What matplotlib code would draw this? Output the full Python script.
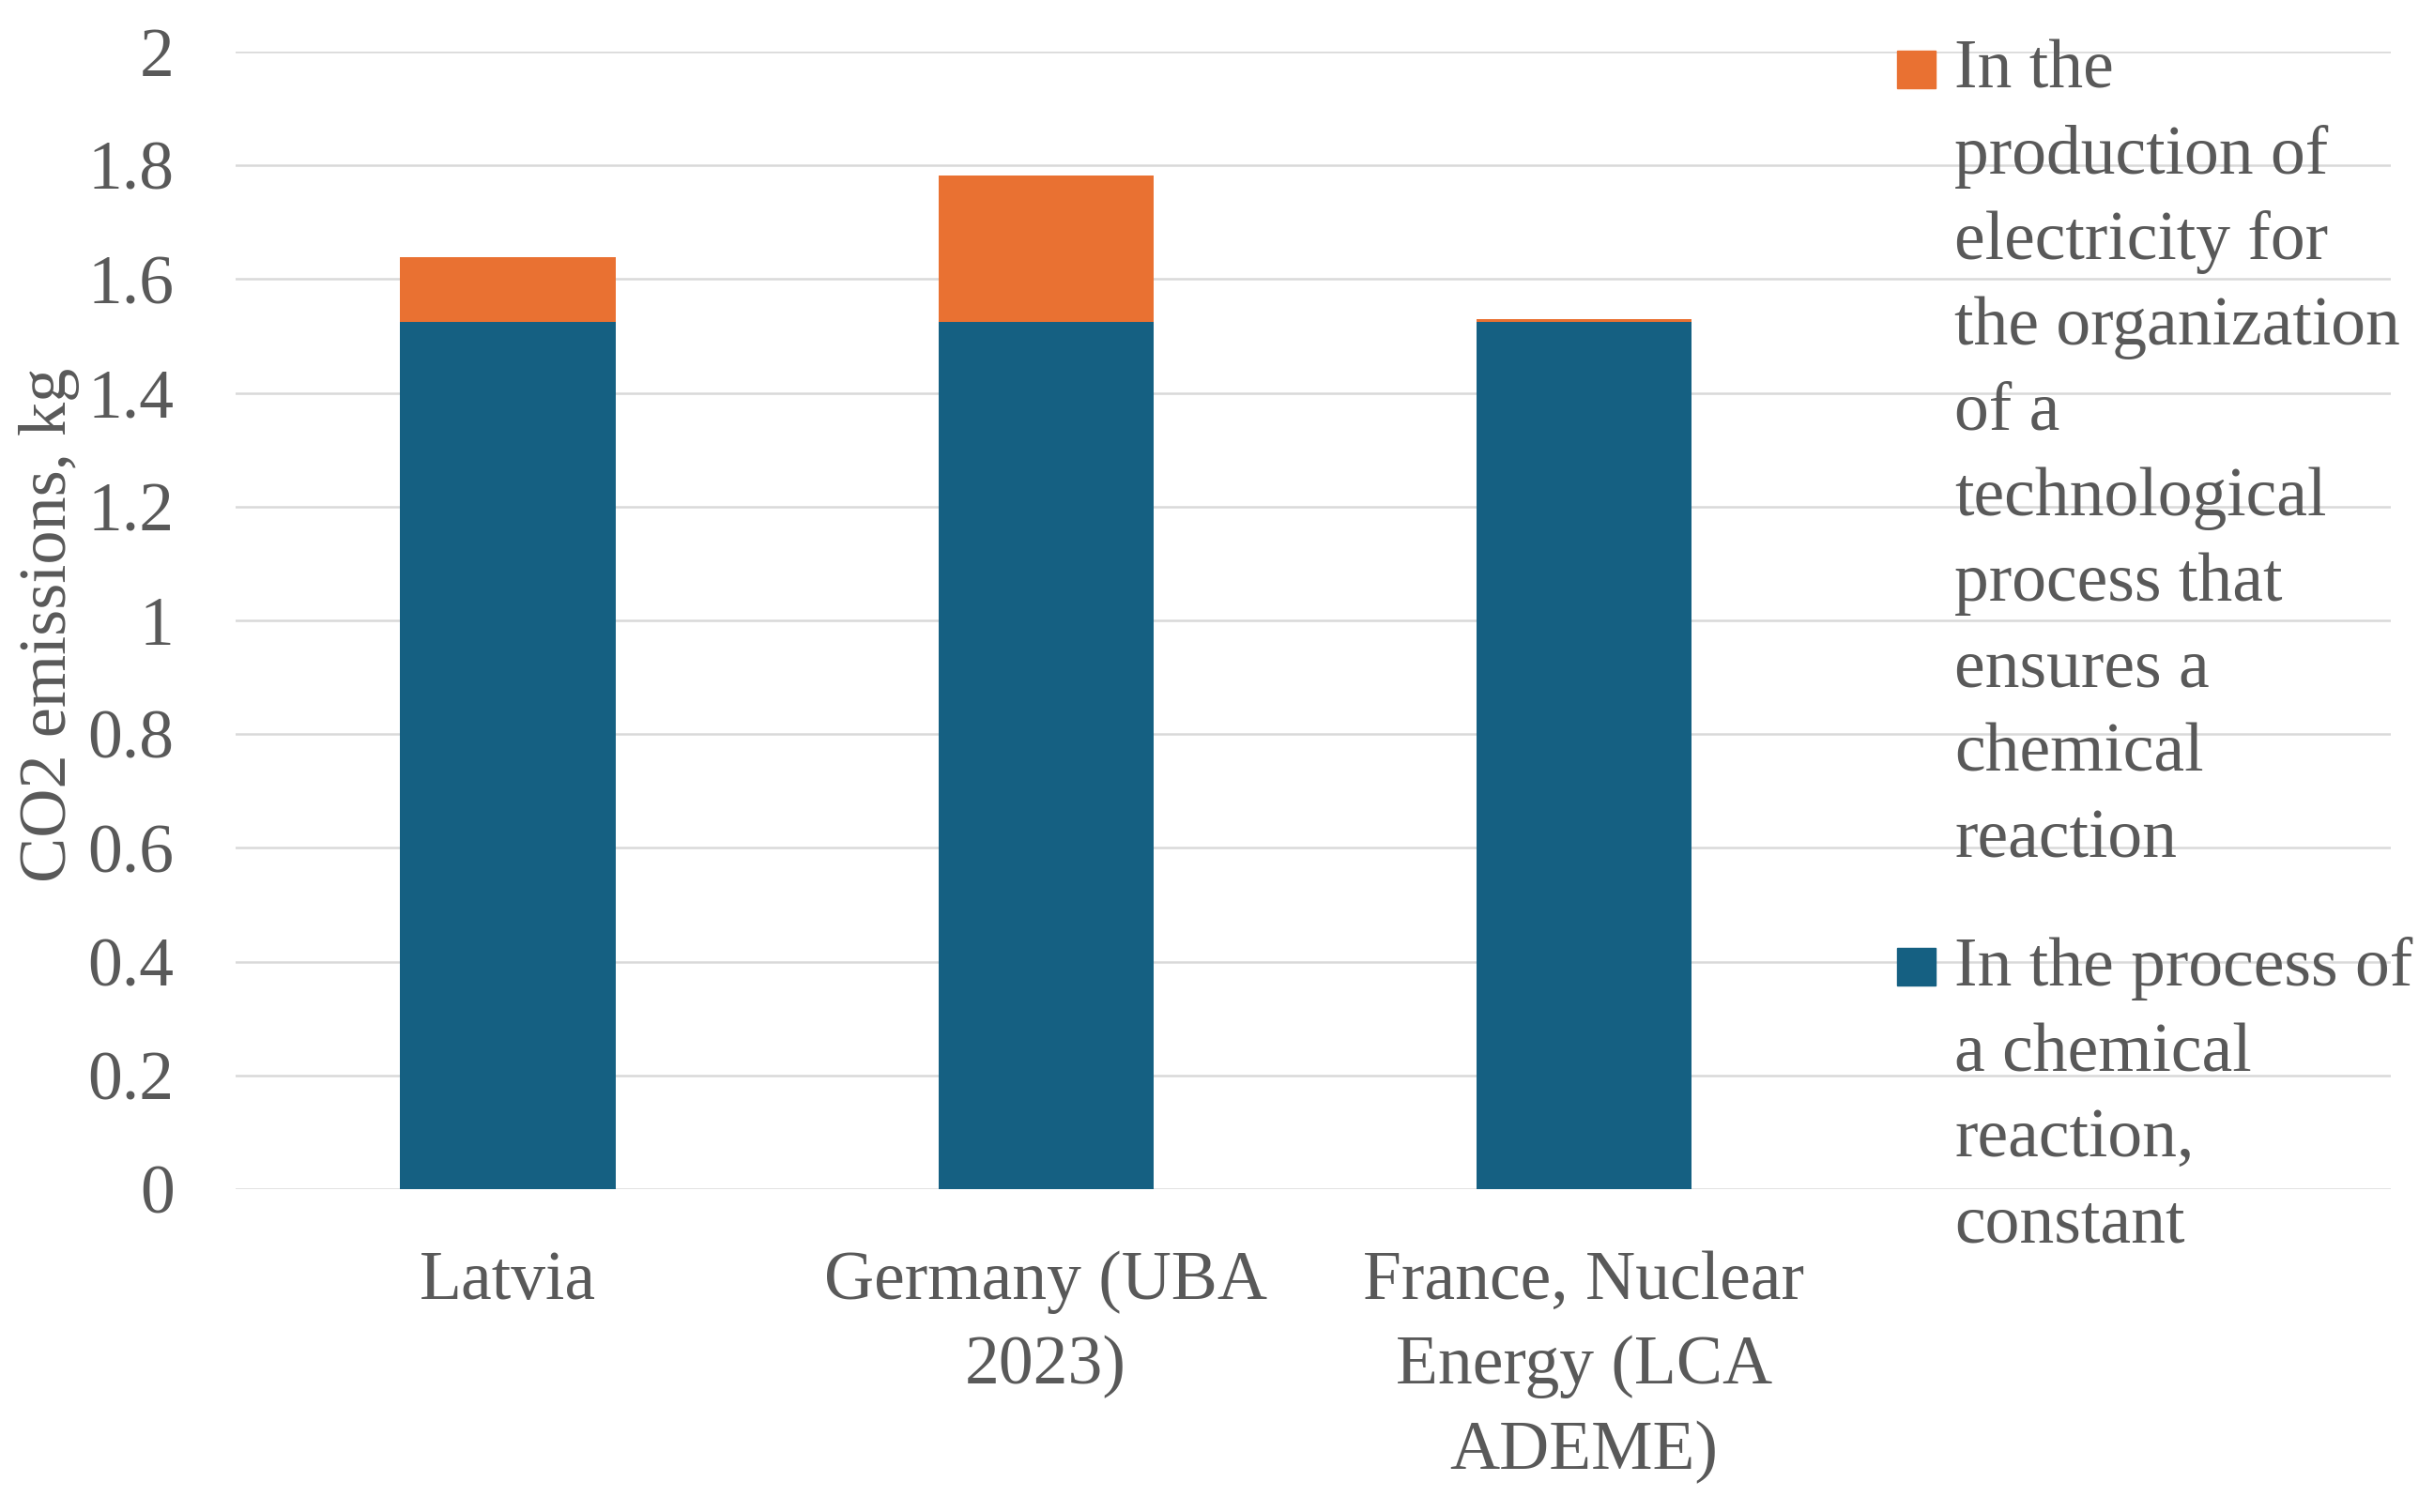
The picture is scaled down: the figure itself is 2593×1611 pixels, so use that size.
import matplotlib
matplotlib.use("Agg")
import matplotlib.pyplot as plt
from matplotlib.patches import Rectangle
import numpy as np

categories = ["Latvia", "Germany (UBA\n2023)", "France, Nuclear\nEnergy (LCA\nADEME)"]
chem_reaction = [1.525, 1.525, 1.525]
electricity = [0.114, 0.257, 0.004]
series_names = [
    "In the\nproduction of\nelectricity for\nthe organization\nof a\ntechnological\nprocess that\nensures a\nchemical\nreaction",
    "In the process of\na chemical\nreaction,\nconstant",
]
yticks = [0, 0.2, 0.4, 0.6, 0.8, 1, 1.2, 1.4, 1.6, 1.8, 2]
ytick_labels = ["0", "0.2", "0.4", "0.6", "0.8", "1", "1.2", "1.4", "1.6", "1.8", "2"]

BLUE = "#156082"
ORANGE = "#E97132"
TEXT = "#595959"
GRID = "#D9D9D9"
FONT = ["Liberation Serif", "DejaVu Serif"]
FS = 53

plt.rcParams["font.family"] = FONT

W, H = 2593, 1611
fig = plt.figure(figsize=(W / 100, H / 100), dpi=100)
ax = fig.add_axes([251 / W, 1 - 1267 / H, (2547 - 251) / W, (1267 - 55) / H])

x = np.arange(len(categories))
ax.bar(x, chem_reaction, width=0.4, color=BLUE, zorder=3)
ax.bar(x, electricity, width=0.4, bottom=chem_reaction, color=ORANGE, zorder=3)

ax.set_xlim(-0.506, 3.5)
ax.set_ylim(0, 2)
ax.set_yticks(yticks)
ax.set_yticklabels(ytick_labels)
ax.set_xticks(x)
ax.set_xticklabels(categories, linespacing=1.45)
ax.yaxis.grid(True, color=GRID, lw=1.8, zorder=0)
ax.set_axisbelow(True)
for s in ax.spines.values():
    s.set_visible(False)
ax.tick_params(axis="both", length=0, labelsize=FS, labelcolor=TEXT)
ax.tick_params(axis="y", pad=47)
ax.tick_params(axis="x", pad=47)
fig.text(53 / W, 1 - 666 / H, "CO2 emissions, kg", rotation=90, fontsize=FS - 1,
         color=TEXT, ha="center", va="center")

# legend (manual, Excel-style wrapped entries)
colors = [ORANGE, BLUE]
first_baselines = [94, 1050]
line_step = 91
for name, col, yb in zip(series_names, colors, first_baselines):
    fig.patches.append(Rectangle((2021 / W, 1 - yb / H), 41 / W, 40 / H,
                                 transform=fig.transFigure, color=col))
    for i, line in enumerate(name.split("\n")):
        fig.text(2082 / W, 1 - (yb + i * line_step) / H, line, fontsize=FS,
                 color=TEXT, ha="left", va="baseline")

fig.savefig("out.png", dpi=100)
